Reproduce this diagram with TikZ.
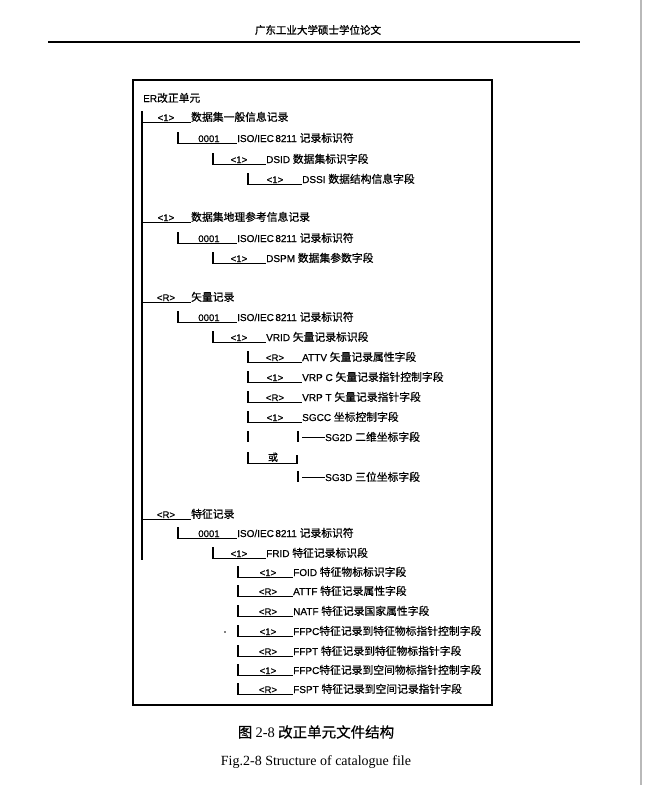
\documentclass[tikz,border=0pt]{standalone}
\usepackage{fontspec}
\setmainfont{Liberation Sans}[FakeBold=0.5]
\newfontfamily\cjk{Noto Sans CJK SC}[FakeBold=0.6]
\newfontfamily\cjkhead{Noto Sans CJK SC}[FakeBold=1.2]
\newfontfamily\serifen{Liberation Serif}
\newcommand\zhs[1]{{\cjk\fontsize{10.8}{12}\selectfont #1}}
\tikzset{
  lbl/.style={anchor=base west, inner sep=0pt, font=\fontsize{10}{12}\selectfont},
  codet/.style={anchor=base, inner sep=0pt, font=\fontsize{9.6}{11}\selectfont},
  tree/.style={line width=1.1pt, line cap=butt},
}
% #1 name, #2 pipe x, #3 y centre, #4 code, #5 code centre x, #6 text x, #7 text
\newcommand\trow[7]{%
  \coordinate (#1-top) at (#2,#3-6);
  \node[codet] (#1-code) at (#5,#3+4) {#4};
  \node[lbl] (#1) at (#6,#3+4) {#7};
  \draw[tree] (#1-top) |- ([yshift=-1.3pt]#1.base west);
}
\begin{document}
\begin{tikzpicture}[x=1pt,y=-1pt]
\useasboundingbox (0,0) rectangle (647,785);
\fill[white] (0,0) rectangle (647,785);
% page edge
\draw[gray!55, line width=1.2pt] (641,0) -- (641,785);
% running head
\node[font=\cjkhead\fontsize{10.5}{12}\selectfont, inner sep=0pt] (head) at (318,30) {广东工业大学硕士学位论文};
\coordinate (ruleL) at (48,42);
\coordinate (ruleR) at (580,42);
\draw[line width=2.6pt] (ruleL) -- (ruleR);
% frame
\draw[line width=1.4pt] (133,80) rectangle (492,705);
% root
\node[lbl] (er) at (143,102) {ER\zhs{改正单元}};
\coordinate (trunkTop) at (142,111);
\coordinate (trunkBot) at (142,560);
\draw[tree] (trunkTop) -- (trunkBot);
% group 1
\trow{r1}{142}{117}{<1>}{166}{191}{\zhs{数据集一般信息记录}}
\trow{r2}{178}{138}{0001}{209}{237}{ISO/IEC\kern1.5pt 8211 \zhs{记录标识符}}
\trow{r3}{213}{159}{<1>}{239}{266}{DSID \zhs{数据集标识字段}}
\trow{r4}{248}{179}{<1>}{275}{302}{DSSI \zhs{数据结构信息字段}}
% group 2
\trow{g2a}{142}{217}{<1>}{166}{191}{\zhs{数据集地理参考信息记录}}
\trow{g2b}{178}{238}{0001}{209}{237}{ISO/IEC\kern1.5pt 8211 \zhs{记录标识符}}
\trow{g2c}{213}{258}{<1>}{239}{266}{DSPM \zhs{数据集参数字段}}
% group 3
\trow{g3a}{142}{297}{<R>}{166}{191}{\zhs{矢量记录}}
\trow{g3b}{178}{317}{0001}{209}{237}{ISO/IEC\kern1.5pt 8211 \zhs{记录标识符}}
\trow{g3c}{213}{337}{<1>}{239}{266}{VRID \zhs{矢量记录标识段}}
\trow{g3d}{248}{357}{<R>}{275}{302}{ATTV \zhs{矢量记录属性字段}}
\trow{g3e}{248}{377}{<1>}{275}{302}{VRP C \zhs{矢量记录指针控制字段}}
\trow{g3f}{248}{397}{<R>}{275}{302}{VRP T \zhs{矢量记录指针字段}}
\trow{g3g}{248}{417}{<1>}{275}{302}{SGCC \zhs{坐标控制字段}}
% SG2D / or / SG3D
\coordinate (p2dA) at (248,431);
\coordinate (p2dB) at (248,442);
\draw[tree] (p2dA) -- (p2dB);
\coordinate (q2dA) at (298,431);
\coordinate (q2dB) at (298,442);
\draw[tree] (q2dA) -- (q2dB);
\node[lbl] (sg2d) at (325,441) {SG2D \zhs{二维坐标字段}};
\coordinate (d2d) at (302,437);
\draw[line width=0.9pt] (d2d) -- (d2d -| sg2d.base west);
\coordinate (orL) at (248,452);
\coordinate (orR) at (297,455);
\node[inner sep=0pt, anchor=base, font=\cjk\fontsize{10}{12}\selectfont] (orlbl) at (273,461) {或};
\draw[tree] (orL) |- (297,463.3) -- (orR);
\coordinate (q3dA) at (298,471);
\coordinate (q3dB) at (298,482);
\draw[tree] (q3dA) -- (q3dB);
\node[lbl] (sg3d) at (325,481) {SG3D \zhs{三位坐标字段}};
\coordinate (d3d) at (302,477);
\draw[line width=0.9pt] (d3d) -- (d3d -| sg3d.base west);
% group 4
\trow{g4a}{142}{514}{<R>}{166}{191}{\zhs{特征记录}}
\trow{g4b}{178}{533}{0001}{209}{237}{ISO/IEC\kern1.5pt 8211 \zhs{记录标识符}}
\trow{g4c}{213}{553}{<1>}{239}{266}{FRID \zhs{特征记录标识段}}
\trow{g4d}{238}{572}{<1>}{268}{293}{FOID \zhs{特征物标标识字段}}
\trow{g4e}{238}{591}{<R>}{268}{293}{ATTF \zhs{特征记录属性字段}}
\trow{g4f}{238}{611}{<R>}{268}{293}{NATF \zhs{特征记录国家属性字段}}
\trow{g4g}{238}{631}{<1>}{268}{293}{FFPC\zhs{特征记录到特征物标指针控制字段}}
\trow{g4h}{238}{651}{<R>}{268}{293}{FFPT \zhs{特征记录到特征物标指针字段}}
\trow{g4i}{238}{670}{<1>}{268}{293}{FFPC\zhs{特征记录到空间物标指针控制字段}}
\trow{g4j}{238}{689}{<R>}{268}{293}{FSPT \zhs{特征记录到空间记录指针字段}}
\fill (225,632) circle (0.8);
% captions
\node[inner sep=0pt, font=\cjk\fontsize{14.5}{16}\selectfont] (cap1) at (316,732) {图 {\serifen 2-8} 改正单元文件结构};
\node[inner sep=0pt, font=\serifen\fontsize{14}{16}\selectfont] (cap2) at (316,762) {Fig.2-8 Structure of catalogue file};
\end{tikzpicture}
\end{document}
